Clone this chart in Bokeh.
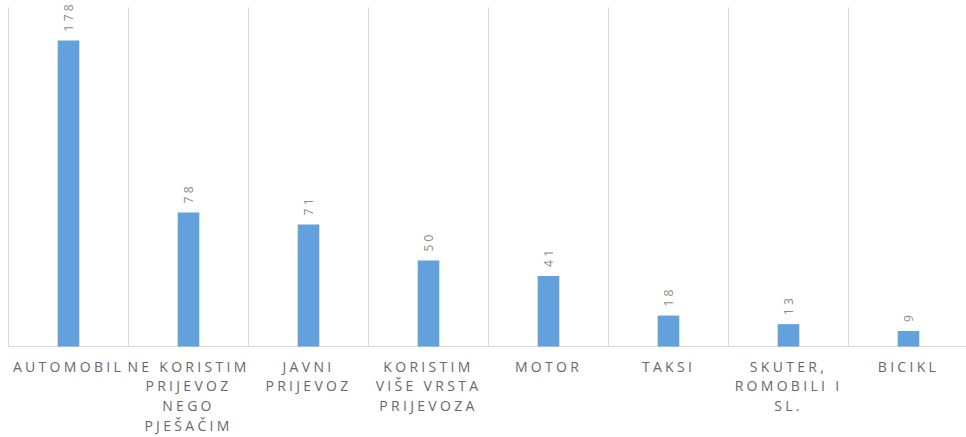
import math
from bokeh.plotting import figure
from bokeh.models import ColumnDataSource, InlineStyleSheet
from bokeh.core.properties import value
from bokeh.embed import file_html
from bokeh.resources import INLINE

categories = ["AUTOMOBIL", "NE KORISTIM PRIJEVOZ NEGO PJEŠAČIM", "JAVNI PRIJEVOZ",
              "KORISTIM VIŠE VRSTA PRIJEVOZA", "MOTOR", "TAKSI",
              "SKUTER, ROMOBILI I SL.", "BICIKL"]
label_lines = [["AUTOMOBIL"], ["NE KORISTIM", "PRIJEVOZ", "NEGO", "PJEŠAČIM"],
               ["JAVNI", "PRIJEVOZ"], ["KORISTIM", "VIŠE VRSTA", "PRIJEVOZA"],
               ["MOTOR"], ["TAKSI"], ["SKUTER,", "ROMOBILI I", "SL."], ["BICIKL"]]
values = [178, 78, 71, 50, 41, 18, 13, 9]

W, H = 966, 437
base_px = 346          # baseline distance from frame top
px_per_unit = 1.719
cat_px = 120
left_px = 8
ls_cat = 3.3           # letter spacing of labels (px)
y_top = base_px / px_per_unit
y_bot = -(H - base_px) / px_per_unit
grid_top = (base_px - 7) / px_per_unit
n = len(categories)
x0 = -left_px / cat_px

p = figure(width=W, height=H, x_range=(x0, x0 + W / cat_px), y_range=(y_bot, y_top),
           output_backend="svg", toolbar_location=None,
           x_axis_type=None, y_axis_type=None, min_border=0)
p.grid.visible = False
p.outline_line_color = None
p.background_fill_color = "white"
p.border_fill_color = "white"
p.stylesheets = [InlineStyleSheet(css=":host { letter-spacing: %spx; }" % ls_cat)]

centers = [i + 0.5 for i in range(n)]
bounds = list(range(n + 1))

p.segment(x0=bounds, y0=[0] * len(bounds), x1=bounds, y1=[grid_top] * len(bounds),
          line_color="#d9d9d9", line_width=1)
p.segment(x0=[0], y0=[0], x1=[n], y1=[0], line_color="#d9d9d9", line_width=1.2)

p.vbar(x=centers, top=values, width=0.18, bottom=0, fill_color="#62a1db",
       line_color=None)

src = ColumnDataSource(dict(x=centers, y=values, t=[str(v) for v in values]))
p.text(x="x", y="y", text="t", source=src, angle=math.pi / 2,
       text_align="left", text_baseline="middle", y_offset=-9,
       text_font=value("Open Sans"), text_font_size="12px", text_color="#8a8a8a")

lx, ly, lt, lo, lxo = [], [], [], [], []
for c, lines in zip(centers, label_lines):
    for i, line in enumerate(lines):
        lx.append(c)
        ly.append(0)
        lt.append(line)
        lo.append(10 + 19.7 * i)
        lxo.append(-len(line) * ls_cat / 2)
lsrc = ColumnDataSource(dict(x=lx, y=ly, t=lt, o=lo, xo=lxo))
p.text(x="x", y="y", text="t", source=lsrc, y_offset="o", x_offset="xo",
       text_align="center", text_baseline="top",
       text_font=value("Open Sans"), text_font_size="14px", text_color="#686868")

open("out.html", "w").write(file_html(p, INLINE))
